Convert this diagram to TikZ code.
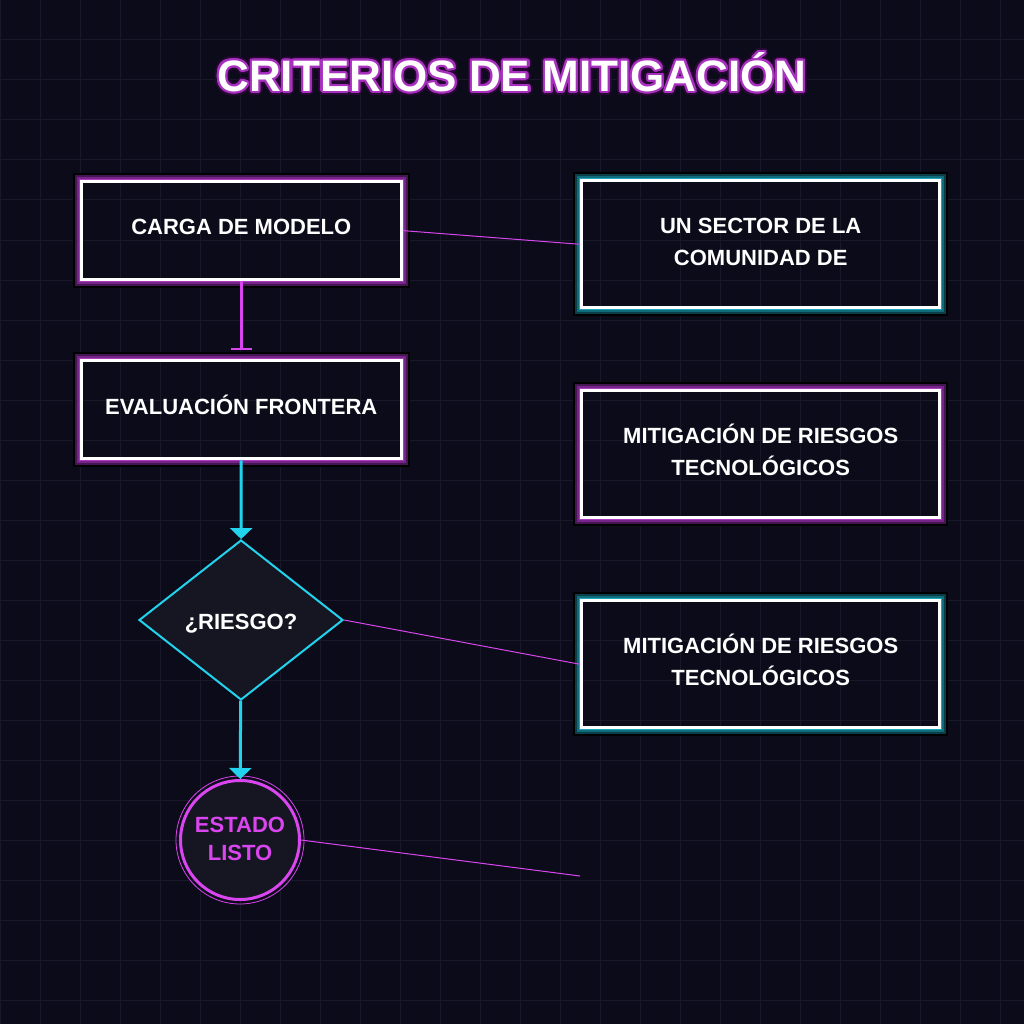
\documentclass[tikz,border=0pt]{standalone}
\usepackage{fontspec}
\setmainfont{Liberation Sans}
\usetikzlibrary{shapes.geometric,arrows.meta}
\definecolor{bg}{RGB}{11,11,26}
\definecolor{gridc}{RGB}{24,24,42}
\definecolor{mag}{RGB}{217,70,239}
\definecolor{cyn}{RGB}{34,211,238}
\definecolor{pgA}{RGB}{70,22,84}
\definecolor{pgB}{RGB}{118,36,138}
\definecolor{pgC}{RGB}{170,58,190}
\definecolor{cgA}{RGB}{10,62,72}
\definecolor{cgB}{RGB}{16,108,122}
\definecolor{cgC}{RGB}{26,165,185}
\definecolor{shapefill}{RGB}{22,22,34}
\definecolor{tdark}{RGB}{40,8,52}
\definecolor{tmid}{RGB}{168,48,190}
\newcommand\glowframe[4]{%
  \foreach \o/\w/\c in {6/2/black,4/2/#4,2/2/#3,0.5/1/#2}{%
    \draw[color=\c, line width=\w pt] ([shift={(-\o pt,\o pt)}]#1.north west) rectangle ([shift={(\o pt,-\o pt)}]#1.south east);
  }%
}
\newcommand\boxtext[2][2pt]{\raisebox{#1}[\height][\depth]{\begin{tabular}{@{}c@{}}#2\end{tabular}}}
\tikzset{
  lbl/.style={font=\bfseries\fontsize{22}{32}\selectfont, text=white},
  boxbase/.style={rectangle, draw=white, line width=3pt, inner sep=0pt, lbl},
  leftbox/.style={boxbase, minimum width=320pt, minimum height=98pt},
  rightbox/.style={boxbase, minimum width=358pt, minimum height=127pt},
  titlef/.style={font=\bfseries\fontsize{44}{48}\selectfont, inner sep=0pt},
  thinlink/.style={draw=mag, line width=1pt},
  flowc/.style={draw=cyn, line width=3pt, -{Triangle[length=11pt,width=22pt]}},
  flowm/.style={draw=mag, line width=3pt, -{Bar[width=21pt,line width=2pt]}},
}
\begin{document}
\begin{tikzpicture}[x=1pt,y=-1pt]
\fill[bg] (0,0) rectangle (1024,1024);
\useasboundingbox (0,0) rectangle (1024,1024);
\foreach \k in {0,40,...,1000}{
  \draw[gridc, line width=1pt] (\k,0) -- (\k,1024);
  \draw[gridc, line width=1pt] (0,\k) -- (1024,\k);
}
% title with glow outline
\foreach \a [count=\i] in {0,22.5,...,337.5}{
  \node[titlef, text=tdark, shift={(\a:4.2pt)}] (tg\i) at (512,72) {CRITERIOS DE MITIGACIÓN};
}
\foreach \a [count=\i] in {0,22.5,...,337.5}{
  \node[titlef, text=tmid, shift={(\a:2.2pt)}] (tm\i) at (512,72) {CRITERIOS DE MITIGACIÓN};
}
\node[titlef, text=white] (title) at (512,72) {CRITERIOS DE MITIGACIÓN};

% left column
\node[leftbox] (carga) at (241.3,230.6) {\boxtext{CARGA DE MODELO}};
\glowframe{carga}{pgC}{pgB}{pgA}
\node[leftbox] (evalf) at (241.3,409.8) {\boxtext[1.5pt]{EVALUACIÓN FRONTERA}};
\glowframe{evalf}{pgC}{pgB}{pgA}
\node[diamond, draw=cyn, fill=shapefill, line width=2pt, inner sep=0pt,
      minimum width=204pt, minimum height=160pt, lbl] (riesgo) at (241,620) {\boxtext[-3pt]{¿RIESGO?}};
\node[circle, draw=mag, fill=shapefill, line width=3pt, inner sep=0pt, minimum size=119pt,
      font=\bfseries\fontsize{22}{28}\selectfont, text=mag] (estado) at (240,840) {\boxtext[-0.8pt]{ESTADO\\LISTO}};
\draw[mag, line width=0.8pt] (estado.center) circle[radius=64];

% right column
\node[rightbox] (sector) at (760.7,244.3) {\boxtext[1.2pt]{UN SECTOR DE LA\\COMUNIDAD DE}};
\glowframe{sector}{cgC}{cgB}{cgA}
\node[rightbox] (mitA) at (760.7,454.3) {\boxtext[1.2pt]{MITIGACIÓN DE RIESGOS\\TECNOLÓGICOS}};
\glowframe{mitA}{pgC}{pgB}{pgA}
\node[rightbox] (mitB) at (760.7,664.3) {\boxtext[1.2pt]{MITIGACIÓN DE RIESGOS\\TECNOLÓGICOS}};
\glowframe{mitB}{cgC}{cgB}{cgA}
\coordinate (loose) at (580,876);

% connectors
\draw[flowm, shorten >=9.5pt] (carga) -- (evalf);
\draw[flowc] (evalf) -- (riesgo);
\draw[flowc] (riesgo) -- (estado);
\draw[thinlink] (carga.east) -- (sector.west);
\draw[thinlink] (riesgo.east) -- (mitB.west);
\draw[thinlink] (estado.east) -- (loose);
\end{tikzpicture}
\end{document}
